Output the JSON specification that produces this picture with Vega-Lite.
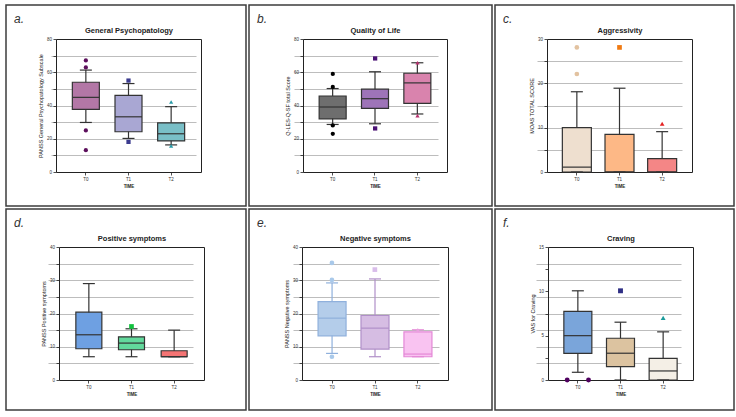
{
  "$schema": "https://vega.github.io/schema/vega-lite/v6.json",
  "background": "white",
  "padding": {"left": 5, "top": 4, "right": 0, "bottom": 0},
  "config": {
    "font": "Liberation Sans",
    "view": {"stroke": "#3c3c3c", "strokeWidth": 1.5, "fill": "white"},
    "axis": {
      "domainColor": "#222222", "domainWidth": 1, "tickColor": "#222222", "tickWidth": 0.8, "tickSize": 3,
      "labelFontSize": 4.5, "labelColor": "#333333", "labelPadding": 1.5, "labelFont": "Liberation Sans",
      "titleFontSize": 5.5, "titleColor": "#222222", "titleFontWeight": "normal", "titleFont": "Liberation Sans",
      "gridColor": "#bdbdbd", "gridWidth": 1
    },
    "title": {"font": "Liberation Sans"}
  },
  "datasets": {
    "boxes": [
      {"panel": "a", "time": "T0", "min": 29.8, "q1": 37.7, "median": 44.9, "q3": 54.0, "max": 61.3},
      {"panel": "a", "time": "T1", "min": 20.2, "q1": 24.2, "median": 33.2, "q3": 46.1, "max": 53.2},
      {"panel": "a", "time": "T2", "min": 16.3, "q1": 18.7, "median": 23.0, "q3": 29.6, "max": 39.3},
      {"panel": "b", "time": "T0", "min": 28.6, "q1": 32.0, "median": 39.1, "q3": 45.7, "max": 50.2},
      {"panel": "b", "time": "T1", "min": 29.0, "q1": 38.3, "median": 44.1, "q3": 49.8, "max": 60.3},
      {"panel": "b", "time": "T2", "min": 34.9, "q1": 41.3, "median": 53.6, "q3": 59.4, "max": 65.7},
      {"panel": "c", "time": "T0", "min": 0, "q1": 0, "median": 1.1, "q3": 10.0, "max": 18.1},
      {"panel": "c", "time": "T1", "min": 0, "q1": 0, "median": 0, "q3": 8.5, "max": 18.9},
      {"panel": "c", "time": "T2", "min": 0, "q1": 0, "median": 0, "q3": 3.0, "max": 9.1},
      {"panel": "d", "time": "T0", "min": 7.0, "q1": 9.4, "median": 13.6, "q3": 20.4, "max": 29.0},
      {"panel": "d", "time": "T1", "min": 7.0, "q1": 9.1, "median": 11.1, "q3": 13.0, "max": 15.4},
      {"panel": "d", "time": "T2", "min": 7.0, "q1": 7.0, "median": 7.0, "q3": 8.8, "max": 15.0},
      {"panel": "e", "time": "T0", "min": 8.0, "q1": 13.3, "median": 18.6, "q3": 23.6, "max": 29.2},
      {"panel": "e", "time": "T1", "min": 7.0, "q1": 9.3, "median": 15.6, "q3": 19.4, "max": 30.4},
      {"panel": "e", "time": "T2", "min": 7.0, "q1": 7.0, "median": 7.8, "q3": 14.5, "max": 15.1},
      {"panel": "f", "time": "T0", "min": 0.87, "q1": 3.0, "median": 5.0, "q3": 7.73, "max": 10.06},
      {"panel": "f", "time": "T1", "min": 0, "q1": 1.51, "median": 3.02, "q3": 4.71, "max": 6.52},
      {"panel": "f", "time": "T2", "min": 0, "q1": 0, "median": 1.02, "q3": 2.45, "max": 5.43}
    ],
    "outliers": [
      {"panel": "a", "time": "T0", "value": 67.1, "rep": "c"},
      {"panel": "a", "time": "T0", "value": 62.9, "rep": "c"},
      {"panel": "a", "time": "T0", "value": 25.0, "rep": "c"},
      {"panel": "a", "time": "T0", "value": 13.1, "rep": "c"},
      {"panel": "a", "time": "T1", "value": 55.0, "rep": "c"},
      {"panel": "a", "time": "T1", "value": 18.1, "rep": "c"},
      {"panel": "a", "time": "T2", "value": 42.1, "rep": "c"},
      {"panel": "a", "time": "T2", "value": 15.7, "rep": "c"},
      {"panel": "b", "time": "T0", "value": 59.0, "rep": "c"},
      {"panel": "b", "time": "T0", "value": 51.2, "rep": "c"},
      {"panel": "b", "time": "T0", "value": 28.0, "rep": "c"},
      {"panel": "b", "time": "T0", "value": 23.0, "rep": "c"},
      {"panel": "b", "time": "T1", "value": 68.3, "rep": "c"},
      {"panel": "b", "time": "T1", "value": 26.2, "rep": "c"},
      {"panel": "b", "time": "T2", "value": 65.7, "rep": "c"},
      {"panel": "b", "time": "T2", "value": 33.9, "rep": "c"},
      {"panel": "c", "time": "T0", "value": 28.1, "rep": "c"},
      {"panel": "c", "time": "T0", "value": 22.1, "rep": "c"},
      {"panel": "c", "time": "T1", "value": 28.1, "rep": "c"},
      {"panel": "c", "time": "T2", "value": 10.9, "rep": "c"},
      {"panel": "d", "time": "T1", "value": 16.1, "rep": "c"},
      {"panel": "e", "time": "T0", "value": 35.2, "rep": "c"},
      {"panel": "e", "time": "T0", "value": 30.1, "rep": "c"},
      {"panel": "e", "time": "T0", "value": 7.0, "rep": "c"},
      {"panel": "e", "time": "T1", "value": 33.2, "rep": "c"},
      {"panel": "e", "time": "T2", "value": 15.0, "rep": "c"},
      {"panel": "f", "time": "T0", "value": 0, "rep": "l"},
      {"panel": "f", "time": "T0", "value": 0, "rep": "r"},
      {"panel": "f", "time": "T1", "value": 10.06, "rep": "c"},
      {"panel": "f", "time": "T2", "value": 7.0, "rep": "c"}
    ]
  },
  "columns": 3,
  "spacing": 1,
  "resolve": {"scale": {"fill": "independent", "stroke": "independent", "color": "independent", "shape": "independent"}},
  "concat": [
    {
      "width": 240, "height": 201,
      "title": {"text": "a.", "anchor": "start", "frame": "group", "offset": -21, "dx": 8, "fontSize": 12, "fontStyle": "italic", "fontWeight": "normal", "color": "#333333"},
      "layer": [
        {"data": {"name": "boxes"}, "transform": [{"filter": "datum.panel === 'a'"}],
         "mark": {"type": "rule", "strokeWidth": 1.2},
         "encoding": {
           "x": {"field": "time", "type": "nominal", "scale": {"type": "band", "domain": ["T0", "T1", "T2"], "range": [50, 195], "paddingInner": 0, "paddingOuter": 0.2},
                 "axis": {"orient": "bottom", "offset": -34, "labelAngle": 0, "title": "TIME", "titleFontWeight": "bold", "titleFontSize": 4.5, "titlePadding": 2}},
           "y": {"field": "min", "type": "quantitative", "scale": {"domain": [0, 80], "range": [167, 34], "nice": false, "zero": false},
                 "axis": {"orient": "left", "offset": -50, "values": [0, 10, 20, 30, 40, 50, 60, 70, 80], "labelExpr": "datum.value % 20 === 0 ? datum.label : ''", "grid": false, "title": "PANSS General Psychopatology Subscale", "titlePadding": 3}},
           "y2": {"field": "max"},
           "color": {"value": "#333333"}}},
        {"data": {"name": "boxes"}, "transform": [{"filter": "datum.panel === 'a'"}],
         "mark": {"type": "bar", "size": 27, "strokeWidth": 1.2, "opacity": 1, "stroke": "#333333"},
         "encoding": {
           "x": {"field": "time", "type": "nominal", "axis": null},
           "y": {"field": "q1", "type": "quantitative", "axis": null},
           "y2": {"field": "q3"},
           "fill": {"field": "time", "type": "nominal", "scale": {"domain": ["T0", "T1", "T2"], "range": ["#b377a6", "#a9a7d3", "#79bfc7"]}, "legend": null}}},
        {"data": {"name": "boxes"}, "transform": [{"filter": "datum.panel === 'a'"}],
         "mark": {"type": "tick", "size": 27, "thickness": 1.2, "opacity": 1, "color": "#333333"},
         "encoding": {"x": {"field": "time", "type": "nominal", "axis": null}, "y": {"field": "median", "type": "quantitative", "axis": null}}},
        {"data": {"name": "boxes"}, "transform": [{"filter": "datum.panel === 'a'"}],
         "mark": {"type": "tick", "size": 12, "thickness": 1.2, "opacity": 1, "color": "#333333"},
         "encoding": {"x": {"field": "time", "type": "nominal", "axis": null}, "y": {"field": "min", "type": "quantitative", "axis": null}}},
        {"data": {"name": "boxes"}, "transform": [{"filter": "datum.panel === 'a'"}],
         "mark": {"type": "tick", "size": 12, "thickness": 1.2, "opacity": 1, "color": "#333333"},
         "encoding": {"x": {"field": "time", "type": "nominal", "axis": null}, "y": {"field": "max", "type": "quantitative", "axis": null}}},
        {"data": {"name": "outliers"}, "transform": [{"filter": "datum.panel === 'a'"}],
         "mark": {"type": "point", "filled": true, "size": 18, "opacity": 1},
         "encoding": {
           "x": {"field": "time", "type": "nominal", "axis": {"orient": "top", "offset": -34, "ticks": false, "labels": false, "title": "General Psychopatology", "titleFontSize": 7.5, "titleFontWeight": "bold", "titlePadding": 5}},
           "xOffset": {"field": "rep", "type": "nominal", "scale": {"domain": ["l", "c", "r"], "paddingInner": 0, "paddingOuter": 2.5}},
           "y": {"field": "value", "type": "quantitative", "axis": {"orient": "right", "offset": -45, "ticks": false, "labels": false, "title": null, "grid": true, "values": [10, 20, 30, 40, 50, 60, 70]}},
           "color": {"field": "time", "type": "nominal", "scale": {"domain": ["T0", "T1", "T2"], "range": ["#5c0f5c", "#3b3b8f", "#2a9ba8"]}, "legend": null},
           "shape": {"field": "time", "type": "nominal", "scale": {"domain": ["T0", "T1", "T2"], "range": ["circle", "square", "triangle-up"]}, "legend": null}}}
      ],
      "resolve": {"axis": {"x": "independent", "y": "independent"}}
    },
    {
      "width": 243, "height": 201,
      "title": {"text": "b.", "anchor": "start", "frame": "group", "offset": -21, "dx": 8, "fontSize": 12, "fontStyle": "italic", "fontWeight": "normal", "color": "#333333"},
      "layer": [
        {"data": {"name": "boxes"}, "transform": [{"filter": "datum.panel === 'b'"}],
         "mark": {"type": "rule", "strokeWidth": 1.2},
         "encoding": {
           "x": {"field": "time", "type": "nominal", "scale": {"type": "band", "domain": ["T0", "T1", "T2"], "range": [54, 198], "paddingInner": 0, "paddingOuter": 0.2},
                 "axis": {"orient": "bottom", "offset": -34, "labelAngle": 0, "title": "TIME", "titleFontWeight": "bold", "titleFontSize": 4.5, "titlePadding": 2}},
           "y": {"field": "min", "type": "quantitative", "scale": {"domain": [0, 80], "range": [167, 34], "nice": false, "zero": false},
                 "axis": {"orient": "left", "offset": -54, "values": [0, 10, 20, 30, 40, 50, 60, 70, 80], "labelExpr": "datum.value % 20 === 0 ? datum.label : ''", "grid": false, "title": "Q-LES-Q-SF total Score", "titlePadding": 3}},
           "y2": {"field": "max"},
           "color": {"value": "#333333"}}},
        {"data": {"name": "boxes"}, "transform": [{"filter": "datum.panel === 'b'"}],
         "mark": {"type": "bar", "size": 27, "strokeWidth": 1.2, "opacity": 1, "stroke": "#333333"},
         "encoding": {
           "x": {"field": "time", "type": "nominal", "axis": null},
           "y": {"field": "q1", "type": "quantitative", "axis": null},
           "y2": {"field": "q3"},
           "fill": {"field": "time", "type": "nominal", "scale": {"domain": ["T0", "T1", "T2"], "range": ["#6e6e6e", "#9e74b8", "#d983ad"]}, "legend": null}}},
        {"data": {"name": "boxes"}, "transform": [{"filter": "datum.panel === 'b'"}],
         "mark": {"type": "tick", "size": 27, "thickness": 1.2, "opacity": 1, "color": "#333333"},
         "encoding": {"x": {"field": "time", "type": "nominal", "axis": null}, "y": {"field": "median", "type": "quantitative", "axis": null}}},
        {"data": {"name": "boxes"}, "transform": [{"filter": "datum.panel === 'b'"}],
         "mark": {"type": "tick", "size": 12, "thickness": 1.2, "opacity": 1, "color": "#333333"},
         "encoding": {"x": {"field": "time", "type": "nominal", "axis": null}, "y": {"field": "min", "type": "quantitative", "axis": null}}},
        {"data": {"name": "boxes"}, "transform": [{"filter": "datum.panel === 'b'"}],
         "mark": {"type": "tick", "size": 12, "thickness": 1.2, "opacity": 1, "color": "#333333"},
         "encoding": {"x": {"field": "time", "type": "nominal", "axis": null}, "y": {"field": "max", "type": "quantitative", "axis": null}}},
        {"data": {"name": "outliers"}, "transform": [{"filter": "datum.panel === 'b'"}],
         "mark": {"type": "point", "filled": true, "size": 18, "opacity": 1},
         "encoding": {
           "x": {"field": "time", "type": "nominal", "axis": {"orient": "top", "offset": -34, "ticks": false, "labels": false, "title": "Quality of Life", "titleFontSize": 7.5, "titleFontWeight": "bold", "titlePadding": 5}},
           "xOffset": {"field": "rep", "type": "nominal", "scale": {"domain": ["l", "c", "r"], "paddingInner": 0, "paddingOuter": 2.5}},
           "y": {"field": "value", "type": "quantitative", "axis": {"orient": "right", "offset": -45, "ticks": false, "labels": false, "title": null, "grid": true, "values": [10, 20, 30, 40, 50, 60, 70]}},
           "color": {"field": "time", "type": "nominal", "scale": {"domain": ["T0", "T1", "T2"], "range": ["#000000", "#4b1275", "#b8306e"]}, "legend": null},
           "shape": {"field": "time", "type": "nominal", "scale": {"domain": ["T0", "T1", "T2"], "range": ["circle", "square", "triangle-up"]}, "legend": null}}}
      ],
      "resolve": {"axis": {"x": "independent", "y": "independent"}}
    },
    {
      "width": 239, "height": 201,
      "title": {"text": "c.", "anchor": "start", "frame": "group", "offset": -21, "dx": 8, "fontSize": 12, "fontStyle": "italic", "fontWeight": "normal", "color": "#333333"},
      "layer": [
        {"data": {"name": "boxes"}, "transform": [{"filter": "datum.panel === 'c'"}],
         "mark": {"type": "rule", "strokeWidth": 1.2},
         "encoding": {
           "x": {"field": "time", "type": "nominal", "scale": {"type": "band", "domain": ["T0", "T1", "T2"], "range": [52, 197], "paddingInner": 0, "paddingOuter": 0.2},
                 "axis": {"orient": "bottom", "offset": -34, "labelAngle": 0, "title": "TIME", "titleFontWeight": "bold", "titleFontSize": 4.5, "titlePadding": 2}},
           "y": {"field": "min", "type": "quantitative", "scale": {"domain": [0, 30], "range": [167, 34], "nice": false, "zero": false},
                 "axis": {"orient": "left", "offset": -52, "values": [0, 5, 10, 15, 20, 25, 30], "labelExpr": "datum.value % 10 === 0 ? datum.label : ''", "grid": false, "title": "MOAS TOTAL SCORE", "titlePadding": 3}},
           "y2": {"field": "max"},
           "color": {"value": "#333333"}}},
        {"data": {"name": "boxes"}, "transform": [{"filter": "datum.panel === 'c'"}],
         "mark": {"type": "bar", "size": 29, "strokeWidth": 1.2, "opacity": 1, "stroke": "#333333"},
         "encoding": {
           "x": {"field": "time", "type": "nominal", "axis": null},
           "y": {"field": "q1", "type": "quantitative", "axis": null},
           "y2": {"field": "q3"},
           "fill": {"field": "time", "type": "nominal", "scale": {"domain": ["T0", "T1", "T2"], "range": ["#eedfcf", "#fdb886", "#f48686"]}, "legend": null}}},
        {"data": {"name": "boxes"}, "transform": [{"filter": "datum.panel === 'c'"}],
         "mark": {"type": "tick", "size": 29, "thickness": 1.2, "opacity": 1, "color": "#333333"},
         "encoding": {"x": {"field": "time", "type": "nominal", "axis": null}, "y": {"field": "median", "type": "quantitative", "axis": null}}},
        {"data": {"name": "boxes"}, "transform": [{"filter": "datum.panel === 'c'"}],
         "mark": {"type": "tick", "size": 12, "thickness": 1.2, "opacity": 1, "color": "#333333"},
         "encoding": {"x": {"field": "time", "type": "nominal", "axis": null}, "y": {"field": "min", "type": "quantitative", "axis": null}}},
        {"data": {"name": "boxes"}, "transform": [{"filter": "datum.panel === 'c'"}],
         "mark": {"type": "tick", "size": 12, "thickness": 1.2, "opacity": 1, "color": "#333333"},
         "encoding": {"x": {"field": "time", "type": "nominal", "axis": null}, "y": {"field": "max", "type": "quantitative", "axis": null}}},
        {"data": {"name": "outliers"}, "transform": [{"filter": "datum.panel === 'c'"}],
         "mark": {"type": "point", "filled": true, "size": 22, "opacity": 1},
         "encoding": {
           "x": {"field": "time", "type": "nominal", "axis": {"orient": "top", "offset": -34, "ticks": false, "labels": false, "title": "Aggressivity", "titleFontSize": 7.5, "titleFontWeight": "bold", "titlePadding": 5}},
           "xOffset": {"field": "rep", "type": "nominal", "scale": {"domain": ["l", "c", "r"], "paddingInner": 0, "paddingOuter": 2.5}},
           "y": {"field": "value", "type": "quantitative", "axis": {"orient": "right", "offset": -42, "ticks": false, "labels": false, "title": null, "grid": true, "values": [5, 10, 15, 20, 25]}},
           "color": {"field": "time", "type": "nominal", "scale": {"domain": ["T0", "T1", "T2"], "range": ["#e2c2a0", "#f07a12", "#e52222"]}, "legend": null},
           "shape": {"field": "time", "type": "nominal", "scale": {"domain": ["T0", "T1", "T2"], "range": ["circle", "square", "triangle-up"]}, "legend": null}}}
      ],
      "resolve": {"axis": {"x": "independent", "y": "independent"}}
    },
    {
      "width": 240, "height": 201,
      "title": {"text": "d.", "anchor": "start", "frame": "group", "offset": -21, "dx": 8, "fontSize": 12, "fontStyle": "italic", "fontWeight": "normal", "color": "#333333"},
      "layer": [
        {"data": {"name": "boxes"}, "transform": [{"filter": "datum.panel === 'd'"}],
         "mark": {"type": "rule", "strokeWidth": 1.2},
         "encoding": {
           "x": {"field": "time", "type": "nominal", "scale": {"type": "band", "domain": ["T0", "T1", "T2"], "range": [53, 198], "paddingInner": 0, "paddingOuter": 0.2},
                 "axis": {"orient": "bottom", "offset": -30, "labelAngle": 0, "title": "TIME", "titleFontWeight": "bold", "titleFontSize": 4.5, "titlePadding": 2}},
           "y": {"field": "min", "type": "quantitative", "scale": {"domain": [0, 40], "range": [171, 38], "nice": false, "zero": false},
                 "axis": {"orient": "left", "offset": -53, "values": [0, 5, 10, 15, 20, 25, 30, 35, 40], "labelExpr": "datum.value % 10 === 0 ? datum.label : ''", "grid": false, "title": "PANSS Positive symptoms", "titlePadding": 3}},
           "y2": {"field": "max"},
           "color": {"value": "#333333"}}},
        {"data": {"name": "boxes"}, "transform": [{"filter": "datum.panel === 'd'"}],
         "mark": {"type": "bar", "size": 26, "strokeWidth": 1.2, "opacity": 1, "stroke": "#333333"},
         "encoding": {
           "x": {"field": "time", "type": "nominal", "axis": null},
           "y": {"field": "q1", "type": "quantitative", "axis": null},
           "y2": {"field": "q3"},
           "fill": {"field": "time", "type": "nominal", "scale": {"domain": ["T0", "T1", "T2"], "range": ["#6ea0e2", "#62d99c", "#f47474"]}, "legend": null}}},
        {"data": {"name": "boxes"}, "transform": [{"filter": "datum.panel === 'd'"}],
         "mark": {"type": "tick", "size": 26, "thickness": 1.2, "opacity": 1, "color": "#333333"},
         "encoding": {"x": {"field": "time", "type": "nominal", "axis": null}, "y": {"field": "median", "type": "quantitative", "axis": null}}},
        {"data": {"name": "boxes"}, "transform": [{"filter": "datum.panel === 'd'"}],
         "mark": {"type": "tick", "size": 12, "thickness": 1.2, "opacity": 1, "color": "#333333"},
         "encoding": {"x": {"field": "time", "type": "nominal", "axis": null}, "y": {"field": "min", "type": "quantitative", "axis": null}}},
        {"data": {"name": "boxes"}, "transform": [{"filter": "datum.panel === 'd'"}],
         "mark": {"type": "tick", "size": 12, "thickness": 1.2, "opacity": 1, "color": "#333333"},
         "encoding": {"x": {"field": "time", "type": "nominal", "axis": null}, "y": {"field": "max", "type": "quantitative", "axis": null}}},
        {"data": {"name": "outliers"}, "transform": [{"filter": "datum.panel === 'd'"}],
         "mark": {"type": "point", "filled": true, "size": 22, "opacity": 1},
         "encoding": {
           "x": {"field": "time", "type": "nominal", "axis": {"orient": "top", "offset": -38, "ticks": false, "labels": false, "title": "Positive symptoms", "titleFontSize": 7.5, "titleFontWeight": "bold", "titlePadding": 5}},
           "xOffset": {"field": "rep", "type": "nominal", "scale": {"domain": ["l", "c", "r"], "paddingInner": 0, "paddingOuter": 2.5}},
           "y": {"field": "value", "type": "quantitative", "axis": {"orient": "right", "offset": -42, "ticks": false, "labels": false, "title": null, "grid": true, "values": [5, 10, 15, 20, 25, 30, 35]}},
           "color": {"field": "time", "type": "nominal", "scale": {"domain": ["T0", "T1", "T2"], "range": ["#3a6fc0", "#12c23e", "#e03030"]}, "legend": null},
           "shape": {"field": "time", "type": "nominal", "scale": {"domain": ["T0", "T1", "T2"], "range": ["circle", "square", "triangle-up"]}, "legend": null}}}
      ],
      "resolve": {"axis": {"x": "independent", "y": "independent"}}
    },
    {
      "width": 243, "height": 201,
      "title": {"text": "e.", "anchor": "start", "frame": "group", "offset": -21, "dx": 8, "fontSize": 12, "fontStyle": "italic", "fontWeight": "normal", "color": "#333333"},
      "layer": [
        {"data": {"name": "boxes"}, "transform": [{"filter": "datum.panel === 'e'"}],
         "mark": {"type": "rule", "strokeWidth": 1.2},
         "encoding": {
           "x": {"field": "time", "type": "nominal", "scale": {"type": "band", "domain": ["T0", "T1", "T2"], "range": [53, 199], "paddingInner": 0, "paddingOuter": 0.2},
                 "axis": {"orient": "bottom", "offset": -30, "labelAngle": 0, "title": "TIME", "titleFontWeight": "bold", "titleFontSize": 4.5, "titlePadding": 2}},
           "y": {"field": "min", "type": "quantitative", "scale": {"domain": [0, 40], "range": [171, 38], "nice": false, "zero": false},
                 "axis": {"orient": "left", "offset": -53, "values": [0, 5, 10, 15, 20, 25, 30, 35, 40], "labelExpr": "datum.value % 10 === 0 ? datum.label : ''", "grid": false, "title": "PANSS Negative symptoms", "titlePadding": 3}},
           "y2": {"field": "max"},
           "color": {"field": "time", "type": "nominal", "scale": {"domain": ["T0", "T1", "T2"], "range": ["#8fb0dc", "#b08fc8", "#e488d6"]}, "legend": null}}},
        {"data": {"name": "boxes"}, "transform": [{"filter": "datum.panel === 'e'"}],
         "mark": {"type": "bar", "size": 28, "strokeWidth": 1.2, "opacity": 1},
         "encoding": {
           "x": {"field": "time", "type": "nominal", "axis": null},
           "y": {"field": "q1", "type": "quantitative", "axis": null},
           "y2": {"field": "q3"},
           "fill": {"field": "time", "type": "nominal", "scale": {"domain": ["T0", "T1", "T2"], "range": ["#b4cdea", "#d6bde3", "#f9c3f1"]}, "legend": null},
           "stroke": {"field": "time", "type": "nominal", "scale": {"domain": ["T0", "T1", "T2"], "range": ["#8fb0dc", "#b08fc8", "#e488d6"]}, "legend": null}}},
        {"data": {"name": "boxes"}, "transform": [{"filter": "datum.panel === 'e'"}],
         "mark": {"type": "tick", "size": 28, "thickness": 1.2, "opacity": 1},
         "encoding": {"x": {"field": "time", "type": "nominal", "axis": null}, "y": {"field": "median", "type": "quantitative", "axis": null},
           "color": {"field": "time", "type": "nominal", "scale": {"domain": ["T0", "T1", "T2"], "range": ["#8fb0dc", "#b08fc8", "#e488d6"]}, "legend": null}}},
        {"data": {"name": "boxes"}, "transform": [{"filter": "datum.panel === 'e'"}],
         "mark": {"type": "tick", "size": 12, "thickness": 1.2, "opacity": 1},
         "encoding": {"x": {"field": "time", "type": "nominal", "axis": null}, "y": {"field": "min", "type": "quantitative", "axis": null},
           "color": {"field": "time", "type": "nominal", "scale": {"domain": ["T0", "T1", "T2"], "range": ["#8fb0dc", "#b08fc8", "#e488d6"]}, "legend": null}}},
        {"data": {"name": "boxes"}, "transform": [{"filter": "datum.panel === 'e'"}],
         "mark": {"type": "tick", "size": 12, "thickness": 1.2, "opacity": 1},
         "encoding": {"x": {"field": "time", "type": "nominal", "axis": null}, "y": {"field": "max", "type": "quantitative", "axis": null},
           "color": {"field": "time", "type": "nominal", "scale": {"domain": ["T0", "T1", "T2"], "range": ["#8fb0dc", "#b08fc8", "#e488d6"]}, "legend": null}}},
        {"data": {"name": "outliers"}, "transform": [{"filter": "datum.panel === 'e'"}],
         "mark": {"type": "point", "filled": true, "size": 22, "opacity": 1},
         "encoding": {
           "x": {"field": "time", "type": "nominal", "axis": {"orient": "top", "offset": -38, "ticks": false, "labels": false, "title": "Negative symptoms", "titleFontSize": 7.5, "titleFontWeight": "bold", "titlePadding": 5}},
           "xOffset": {"field": "rep", "type": "nominal", "scale": {"domain": ["l", "c", "r"], "paddingInner": 0, "paddingOuter": 2.5}},
           "y": {"field": "value", "type": "quantitative", "axis": {"orient": "right", "offset": -44, "ticks": false, "labels": false, "title": null, "grid": true, "values": [5, 10, 15, 20, 25, 30, 35]}},
           "fill": {"field": "time", "type": "nominal", "scale": {"domain": ["T0", "T1", "T2"], "range": ["#a9c9ea", "#d9bdea", "#eaa0e0"]}, "legend": null},
           "shape": {"field": "time", "type": "nominal", "scale": {"domain": ["T0", "T1", "T2"], "range": ["circle", "square", "triangle-up"]}, "legend": null}}}
      ],
      "resolve": {"axis": {"x": "independent", "y": "independent"}, "scale": {"fill": "independent", "color": "independent"}}
    },
    {
      "width": 239, "height": 201,
      "title": {"text": "f.", "anchor": "start", "frame": "group", "offset": -21, "dx": 8, "fontSize": 12, "fontStyle": "italic", "fontWeight": "normal", "color": "#333333"},
      "layer": [
        {"data": {"name": "boxes"}, "transform": [{"filter": "datum.panel === 'f'"}],
         "mark": {"type": "rule", "strokeWidth": 1.2},
         "encoding": {
           "x": {"field": "time", "type": "nominal", "scale": {"type": "band", "domain": ["T0", "T1", "T2"], "range": [53, 198], "paddingInner": 0, "paddingOuter": 0.2},
                 "axis": {"orient": "bottom", "offset": -30, "labelAngle": 0, "title": "TIME", "titleFontWeight": "bold", "titleFontSize": 4.5, "titlePadding": 2}},
           "y": {"field": "min", "type": "quantitative", "scale": {"domain": [0, 15], "range": [171, 38], "nice": false, "zero": false},
                 "axis": {"orient": "left", "offset": -53, "values": [0, 2.5, 5, 7.5, 10, 12.5, 15], "labelExpr": "datum.value % 5 === 0 ? datum.label : ''", "grid": false, "title": "VAS for Craving", "titlePadding": 3}},
           "y2": {"field": "max"},
           "color": {"value": "#333333"}}},
        {"data": {"name": "boxes"}, "transform": [{"filter": "datum.panel === 'f'"}],
         "mark": {"type": "bar", "size": 28, "strokeWidth": 1.2, "opacity": 1, "stroke": "#333333"},
         "encoding": {
           "x": {"field": "time", "type": "nominal", "axis": null},
           "y": {"field": "q1", "type": "quantitative", "axis": null},
           "y2": {"field": "q3"},
           "fill": {"field": "time", "type": "nominal", "scale": {"domain": ["T0", "T1", "T2"], "range": ["#7aa5da", "#dcc3a0", "#f4efe6"]}, "legend": null}}},
        {"data": {"name": "boxes"}, "transform": [{"filter": "datum.panel === 'f'"}],
         "mark": {"type": "tick", "size": 28, "thickness": 1.2, "opacity": 1, "color": "#333333"},
         "encoding": {"x": {"field": "time", "type": "nominal", "axis": null}, "y": {"field": "median", "type": "quantitative", "axis": null}}},
        {"data": {"name": "boxes"}, "transform": [{"filter": "datum.panel === 'f'"}],
         "mark": {"type": "tick", "size": 12, "thickness": 1.2, "opacity": 1, "color": "#333333"},
         "encoding": {"x": {"field": "time", "type": "nominal", "axis": null}, "y": {"field": "min", "type": "quantitative", "axis": null}}},
        {"data": {"name": "boxes"}, "transform": [{"filter": "datum.panel === 'f'"}],
         "mark": {"type": "tick", "size": 12, "thickness": 1.2, "opacity": 1, "color": "#333333"},
         "encoding": {"x": {"field": "time", "type": "nominal", "axis": null}, "y": {"field": "max", "type": "quantitative", "axis": null}}},
        {"data": {"name": "outliers"}, "transform": [{"filter": "datum.panel === 'f'"}],
         "mark": {"type": "point", "filled": true, "size": 24, "opacity": 1},
         "encoding": {
           "x": {"field": "time", "type": "nominal", "axis": {"orient": "top", "offset": -38, "ticks": false, "labels": false, "title": "Craving", "titleFontSize": 7.5, "titleFontWeight": "bold", "titlePadding": 5}},
           "xOffset": {"field": "rep", "type": "nominal", "scale": {"domain": ["l", "c", "r"], "paddingInner": 0, "paddingOuter": 2.5}},
           "y": {"field": "value", "type": "quantitative", "axis": {"orient": "right", "offset": -41, "ticks": false, "labels": false, "title": null, "grid": true, "values": [1.875, 3.75, 5.625, 7.5, 9.375, 11.25, 13.125]}},
           "color": {"field": "time", "type": "nominal", "scale": {"domain": ["T0", "T1", "T2"], "range": ["#4f005f", "#2f2f85", "#1b9b9b"]}, "legend": null},
           "shape": {"field": "time", "type": "nominal", "scale": {"domain": ["T0", "T1", "T2"], "range": ["circle", "square", "triangle-up"]}, "legend": null}}}
      ],
      "resolve": {"axis": {"x": "independent", "y": "independent"}}
    }
  ]
}
